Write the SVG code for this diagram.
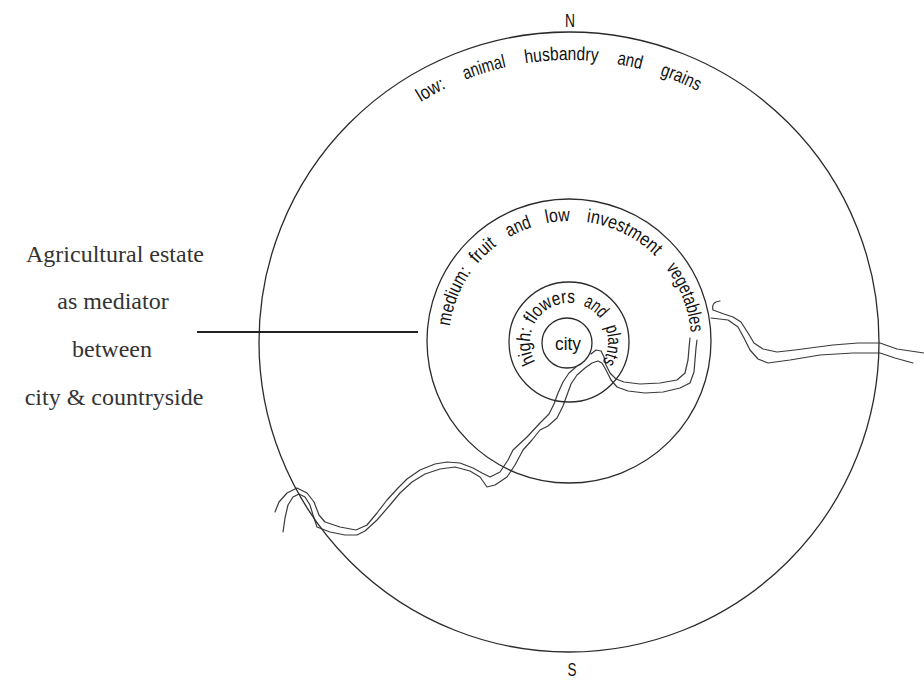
<svg xmlns="http://www.w3.org/2000/svg" xmlns:xlink="http://www.w3.org/1999/xlink" width="924" height="681" viewBox="0 0 924 681">
<style>
.ring{fill:none;stroke:#2b2b2b;stroke-width:1.3}
.river{fill:none;stroke:#3a3a3a;stroke-width:1.2;stroke-linejoin:round;stroke-linecap:round}
.lbl{font-family:"Liberation Sans",Arial,sans-serif;font-size:19px;fill:#111;text-anchor:middle}
.serif{font-family:"Liberation Serif","Times New Roman",serif;font-size:24px;fill:#333;text-anchor:middle}
.conn{stroke:#222;stroke-width:2.2;fill:none}
</style>
<defs>
<path id="pOuter" d="M569,624 A282,282 0 1 1 569,60 A282,282 0 1 1 569,624"/>
<path id="pMid" d="M570,463 A121,121 0 1 1 570,221 A121,121 0 1 1 570,463"/>
<path id="pIn" d="M569,381 A39,39 0 1 1 569,303 A39,39 0 1 1 569,381"/>
</defs>
<rect width="924" height="681" fill="#fff"/>
<g id="river">
<path class="river" d="M275,512 L279,502 L287,493 L297,488 L307,493 L314,502 L319,515 L325,522 L340,527 L356,530 L367,525 L377,513 L387,500 L398,488 L407,479 L420,470 L435,464 L447,462 L460,463 L473,468 L482,473 L490,477 L500,472 L508,460 L513,450 L527,437 L540,423 L549,414 L554,404 L558,393 L563,382 L569,373 L576,367"/>
<path class="river" d="M283,532 L285,518 L288,505 L293,497 L299,494 L305,497 L310,505 L313,515 L317,527 L330,532 L345,535 L357,535 L365,531 L377,520 L390,505 L400,493 L412,482 L425,474 L440,469 L455,467 L470,471 L480,477 L487,487 L495,485 L507,477 L515,465 L523,450 L532,440 L540,430 L548,426 L557,418 L563,406 L567,395 L571,384 L577,375 L585,368 L592,363 L598,361 L602,363 L606,370 L611,380 L617,387 L628,391 L645,393 L663,392 L680,388 L690,383 L694,372 L695,360 L696,348 L697,340"/>
<path class="river" d="M591,354 L596,350 L601,351 L604,357 L606,365 L610,373 L616,379 L624,382 L640,384 L660,383 L677,380 L685,373 L688,360 L689,348 L690,338"/>
<path class="river" d="M720,301 Q711,302 713,310 L724,314 L733,317 L741,322 L748,333 L754,343 L763,349 L777,352 L795,350 L810,348 L833,345 L858,343 L880,343 L897,349 L924,353"/>
<path class="river" d="M711,318 L728,320 L738,327 L744,338 L750,350 L758,359 L768,363 L790,360 L820,355 L853,353 L880,353 L895,358 L913,363"/>
</g>
<g id="ring-low">
<circle class="ring" cx="569" cy="342" r="310"/>
<text class="lbl"><textPath href="#pOuter" xlink:href="#pOuter" startOffset="744.1" textLength="29" lengthAdjust="spacingAndGlyphs">low:</textPath></text>
<text class="lbl"><textPath href="#pOuter" xlink:href="#pOuter" startOffset="800.8" textLength="43" lengthAdjust="spacingAndGlyphs">animal</textPath></text>
<text class="lbl"><textPath href="#pOuter" xlink:href="#pOuter" startOffset="878.1" textLength="73" lengthAdjust="spacingAndGlyphs">husbandry</textPath></text>
<text class="lbl"><textPath href="#pOuter" xlink:href="#pOuter" startOffset="946" textLength="25" lengthAdjust="spacingAndGlyphs">and</textPath></text>
<text class="lbl"><textPath href="#pOuter" xlink:href="#pOuter" startOffset="998.6" textLength="41" lengthAdjust="spacingAndGlyphs">grains</textPath></text>
</g>
<g id="ring-medium">
<circle class="ring" cx="569" cy="341" r="142"/>
<text class="lbl"><textPath href="#pMid" xlink:href="#pMid" startOffset="235.4" textLength="59" lengthAdjust="spacingAndGlyphs">medium:</textPath></text>
<text class="lbl"><textPath href="#pMid" xlink:href="#pMid" startOffset="288.1" textLength="27" lengthAdjust="spacingAndGlyphs">fruit</textPath></text>
<text class="lbl"><textPath href="#pMid" xlink:href="#pMid" startOffset="329" textLength="25" lengthAdjust="spacingAndGlyphs">and</textPath></text>
<text class="lbl"><textPath href="#pMid" xlink:href="#pMid" startOffset="368.1" textLength="24" lengthAdjust="spacingAndGlyphs">low</textPath></text>
<text class="lbl"><textPath href="#pMid" xlink:href="#pMid" startOffset="435.5" textLength="78" lengthAdjust="spacingAndGlyphs">investment</textPath></text>
<text class="lbl"><textPath href="#pMid" xlink:href="#pMid" startOffset="525.4" textLength="70" lengthAdjust="spacingAndGlyphs">vegetables</textPath></text>
</g>
<g id="ring-high">
<circle class="ring" cx="569" cy="342" r="60"/>
<text class="lbl"><textPath href="#pIn" xlink:href="#pIn" startOffset="57.2" textLength="34" lengthAdjust="spacingAndGlyphs">high:</textPath></text>
<text class="lbl"><textPath href="#pIn" xlink:href="#pIn" startOffset="103.5" textLength="49" lengthAdjust="spacingAndGlyphs">flowers</textPath></text>
<text class="lbl"><textPath href="#pIn" xlink:href="#pIn" startOffset="147.7" textLength="22" lengthAdjust="spacingAndGlyphs">and</textPath></text>
<text class="lbl"><textPath href="#pIn" xlink:href="#pIn" startOffset="186.5" textLength="37" lengthAdjust="spacingAndGlyphs">plants</textPath></text>
</g>
<g id="city">
<circle class="ring" cx="567" cy="343" r="25"/>
<text class="lbl" x="568" y="350" textLength="26" lengthAdjust="spacingAndGlyphs">city</text>
</g>
<g id="compass">
<text class="lbl" x="570" y="27" font-size="17" textLength="10" lengthAdjust="spacingAndGlyphs">N</text>
<text class="lbl" x="572" y="676" font-size="17" textLength="9" lengthAdjust="spacingAndGlyphs">S</text>
</g>
<g id="label-left">
<text class="serif" x="115" y="262">Agricultural estate</text>
<text class="serif" x="113" y="309">as mediator</text>
<text class="serif" x="112" y="357">between</text>
<text class="serif" x="114" y="405">city &amp; countryside</text>
</g>
<g id="connectors">
<line class="conn" x1="197" y1="332" x2="418" y2="332"/>
</g>
</svg>
